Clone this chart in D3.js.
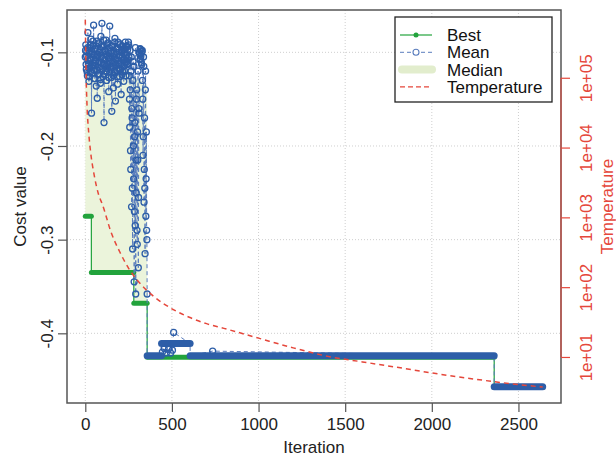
<!DOCTYPE html>
<html>
<head>
<meta charset="utf-8">
<script src="https://cdn.jsdelivr.net/npm/d3@7"></script>
<style>
  body { margin: 0; background: #fff; }
  svg { font-family: "Liberation Sans", Arial, sans-serif; }
</style>
</head>
<body>
<svg></svg>
<script>
const width = 616;
const height = 460;
const margin = {top: 10, right: 55, bottom: 57, left: 67};

// ---- data ----
const xTicks = [0, 500, 1000, 1500, 2000, 2500];
const costTicks = [-0.1, -0.2, -0.3, -0.4];
const tempTicks = [1e1, 1e2, 1e3, 1e4, 1e5];
const maxIteration = 2640;

// best cost: [from iteration, to iteration, cost]
const bestRuns = [
  [0, 35, -0.275],
  [35, 280, -0.335],
  [280, 357, -0.368],
  [357, 2360, -0.4255],
  [2360, 2640, -0.4575]
];

// mean cost, every 3rd iteration from 0 to 357
const meanStep = 3;
const meanEarly = [
  -0.105, -0.092, -0.118, -0.099, -0.125, -0.079, -0.112, -0.131, -0.095, -0.108,
  -0.121, -0.086, -0.165, -0.102, -0.114, -0.093, -0.071, -0.119, -0.128, -0.097,
  -0.109, -0.136, -0.088, -0.149, -0.104, -0.116, -0.091, -0.123, -0.100, -0.133,
  -0.083, -0.111, -0.069, -0.107, -0.126, -0.094, -0.175, -0.113, -0.098, -0.120,
  -0.087, -0.130, -0.103, -0.117, -0.090, -0.142, -0.106, -0.072, -0.115, -0.099,
  -0.127, -0.163, -0.110, -0.093, -0.138, -0.101, -0.122, -0.085, -0.152, -0.108,
  -0.096, -0.119, -0.134, -0.089, -0.112, -0.104, -0.126, -0.091, -0.118, -0.145,
  -0.100, -0.093, -0.121, -0.108, -0.131, -0.097, -0.114, -0.089, -0.125, -0.103,
  -0.110, -0.094, -0.112, -0.089,
  -0.105, -0.150, -0.098, -0.205, -0.120, -0.265, -0.170, -0.310, -0.110, -0.235,
  -0.345, -0.190, -0.285, -0.358, -0.250, -0.140, -0.305, -0.215, -0.330, -0.160,
  -0.100, -0.108, -0.097, -0.104, -0.111, -0.099,
  -0.130, -0.210, -0.105, -0.260, -0.170, -0.315, -0.120, -0.235, -0.290, -0.358
];
// the iterations in between (1.5, 4.5, ... 355.5)
const meanEarlyMid = [
  -0.098, -0.113, -0.104, -0.121, -0.095, -0.109, -0.117, -0.101, -0.126, -0.092,
  -0.107, -0.115, -0.099, -0.122, -0.088, -0.111, -0.103, -0.128, -0.096, -0.114,
  -0.106, -0.093, -0.119, -0.102, -0.124, -0.090, -0.110, -0.116, -0.097, -0.129,
  -0.105, -0.094, -0.118, -0.100, -0.112, -0.087, -0.123, -0.108, -0.099, -0.115,
  -0.102, -0.120, -0.091, -0.113, -0.106, -0.127, -0.095, -0.110, -0.118, -0.101,
  -0.093, -0.116, -0.104, -0.125, -0.098, -0.111, -0.089, -0.121, -0.107, -0.114,
  -0.100, -0.126, -0.096, -0.109, -0.117, -0.092, -0.119, -0.103, -0.112, -0.098,
  -0.124, -0.105, -0.094, -0.115, -0.101, -0.120, -0.097, -0.110, -0.106, -0.093,
  -0.113, -0.097, -0.108, -0.092,
  -0.125, -0.180, -0.140, -0.225, -0.105, -0.160, -0.245, -0.130, -0.200, -0.115,
  -0.270, -0.175, -0.095, -0.215, -0.150, -0.290, -0.185, -0.120, -0.255, -0.165,
  -0.102, -0.096, -0.107, -0.101, -0.113, -0.098,
  -0.150, -0.190, -0.115, -0.225, -0.245, -0.140, -0.275, -0.185, -0.300
];
// mean cost after the search settles: [from, to, cost]
const meanRuns = [
  [357, 440, -0.424],
  [440, 605, -0.411],
  [605, 2360, -0.424],
  [2360, 2640, -0.457]
];
// single mean points in the small bump
const meanExtra = [
  [445, -0.420], [455, -0.416], [468, -0.421], [480, -0.417], [492, -0.421],
  [503, -0.418], [510, -0.399], [735, -0.419]
];

// median cost (upper edge of the shaded band)
const medianIter = [0, 40, 80, 120, 160, 200, 240, 280, 320, 357];
const medianCost = [-0.120, -0.115, -0.118, -0.112, -0.116, -0.113, -0.117, -0.125, -0.130, -0.135];

// temperature schedule
const tempIter = [0, 5, 10, 20, 30, 50, 75, 100, 150, 200, 250, 300, 400, 500, 600, 700, 800,
                  1000, 1200, 1400, 1600, 1800, 2000, 2200, 2400, 2640];
const tempValue = [6.8e5, 1.0e5, 4.0e4, 1.6e4, 8.9e3, 4.2e3, 2.2e3, 1.5e3, 600, 316, 186, 126, 72,
                   49, 37, 30, 25.7, 18.6, 13.5, 10.2, 8.5, 7.1, 5.9, 5.0, 4.3, 3.7];

// ---- colours ----
const green = "#22a33c";
const blue = "#2d5ea8";
const blueLine = "#5a7dbd";
const red = "#e5473b";
const fillGreen = "#ebf4db";

// ---- scales ----
const pad = maxIteration * 0.04;
const x = d3.scaleLinear()
  .domain([-pad, maxIteration + pad])
  .range([margin.left, width - margin.right]);
const y = d3.scaleLinear()
  .domain([-0.4744, -0.0548])
  .range([height - margin.bottom, margin.top]);
const yT = d3.scaleLog()
  .domain([2.19, 9.35e5])
  .range([height - margin.bottom, margin.top]);

const svg = d3.select("svg")
  .attr("width", width)
  .attr("height", height);

// grid
const grid = svg.append("g")
  .attr("stroke", "#cfcfcf")
  .attr("stroke-width", 1)
  .attr("stroke-dasharray", "1,2");
grid.selectAll("line.v").data(xTicks).join("line")
  .attr("x1", d => x(d)).attr("x2", d => x(d))
  .attr("y1", margin.top).attr("y2", height - margin.bottom);
grid.selectAll("line.h").data(costTicks).join("line")
  .attr("y1", d => y(d)).attr("y2", d => y(d))
  .attr("x1", margin.left).attr("x2", width - margin.right);

// median band (between median and best)
const bestEarly = bestRuns.filter(r => r[0] < 357)
  .flatMap(r => [[r[0], r[2]], [r[1], r[2]]]);
const bandPts = medianIter.map((it, i) => [it, medianCost[i]])
  .concat(bestEarly.slice().reverse());
svg.append("path")
  .attr("fill", fillGreen)
  .attr("d", d3.line().x(d => x(d[0])).y(d => y(d[1]))(bandPts) + "Z");

// best
const bestPts = bestRuns.flatMap(r => [[r[0], r[2]], [r[1], r[2]]]);
svg.append("path")
  .attr("fill", "none")
  .attr("stroke", green)
  .attr("stroke-width", 1.2)
  .attr("d", d3.line().x(d => x(d[0])).y(d => y(d[1]))(bestPts));
svg.append("g")
  .attr("stroke", green)
  .attr("stroke-width", 5)
  .attr("stroke-linecap", "round")
  .selectAll("line")
  .data(bestRuns)
  .join("line")
  .attr("x1", d => x(d[0])).attr("x2", d => x(d[1]))
  .attr("y1", d => y(d[2])).attr("y2", d => y(d[2]));

// mean
const meanPts = meanEarly.map((v, i) => [i * meanStep, v])
  .concat(meanEarlyMid.map((v, i) => [i * meanStep + meanStep / 2, v]))
  .sort((a, b) => a[0] - b[0]);
const meanPath = meanPts
  .concat(meanRuns.flatMap(r => [[r[0] + 0.01, r[2]], [r[1], r[2]]]))
  .concat(meanExtra)
  .sort((a, b) => a[0] - b[0]);
svg.append("path")
  .attr("fill", "none")
  .attr("stroke", blueLine)
  .attr("stroke-width", 1)
  .attr("stroke-dasharray", "4,3")
  .attr("d", d3.line().x(d => x(d[0])).y(d => y(d[1]))(meanPath));
svg.append("g")
  .attr("stroke", blue)
  .attr("stroke-width", 7)
  .attr("stroke-linecap", "round")
  .selectAll("line")
  .data(meanRuns)
  .join("line")
  .attr("x1", d => x(d[0])).attr("x2", d => x(d[1]))
  .attr("y1", d => y(d[2])).attr("y2", d => y(d[2]));
svg.append("g")
  .attr("fill", "none")
  .attr("stroke", blue)
  .attr("stroke-width", 1.3)
  .selectAll("circle")
  .data(meanPts.concat(meanExtra))
  .join("circle")
  .attr("cx", d => x(d[0]))
  .attr("cy", d => y(d[1]))
  .attr("r", 3);

// temperature
svg.append("path")
  .attr("fill", "none")
  .attr("stroke", red)
  .attr("stroke-width", 1.5)
  .attr("stroke-dasharray", "5,4")
  .attr("d", d3.line()
    .x((d, i) => x(tempIter[i]))
    .y(d => yT(d))
    .curve(d3.curveMonotoneX)(tempValue));

// box
svg.append("rect")
  .attr("x", margin.left).attr("y", margin.top)
  .attr("width", width - margin.left - margin.right)
  .attr("height", height - margin.top - margin.bottom)
  .attr("fill", "none")
  .attr("stroke", "#555")
  .attr("stroke-width", 1.5);

// axes
const fs = 17;
const xAxis = svg.append("g")
  .attr("transform", `translate(0,${height - margin.bottom})`)
  .call(d3.axisBottom(x).tickValues(xTicks).tickSize(9).tickPadding(6).tickFormat(d3.format("d")));
xAxis.select(".domain").remove();
xAxis.selectAll("line").attr("stroke", "#555").attr("stroke-width", 1.2);
xAxis.selectAll("text").attr("font-size", fs).attr("fill", "#222");

const yAxis = svg.append("g")
  .attr("transform", `translate(${margin.left},0)`)
  .call(d3.axisLeft(y).tickValues(costTicks).tickSize(9).tickFormat(d => String(d)));
yAxis.select(".domain").remove();
yAxis.selectAll("line").attr("stroke", "#555").attr("stroke-width", 1.2);
yAxis.selectAll("text")
  .attr("font-size", fs).attr("fill", "#222")
  .attr("x", null).attr("dy", null)
  .attr("text-anchor", "middle")
  .attr("transform", "translate(-14,0) rotate(-90)");

const tAxis = svg.append("g")
  .attr("transform", `translate(${width - margin.right},0)`)
  .call(d3.axisRight(yT).tickValues(tempTicks).tickSize(9)
    .tickFormat(d => "1e+" + String(Math.round(Math.log10(d))).padStart(2, "0")));
tAxis.select(".domain")
  .attr("stroke", red)
  .attr("d", `M0,${yT(1e1)}V${yT(1e5)}`);
tAxis.selectAll("line").attr("stroke", red).attr("stroke-width", 1.2);
tAxis.selectAll("text")
  .attr("font-size", fs).attr("fill", red)
  .attr("x", null).attr("dy", null)
  .attr("text-anchor", "middle")
  .attr("transform", "translate(31,0) rotate(-90)");

// axis titles
const midY = (margin.top + height - margin.bottom) / 2;
svg.append("text")
  .attr("transform", `translate(26,${midY}) rotate(-90)`)
  .attr("text-anchor", "middle")
  .attr("font-size", fs)
  .attr("fill", "#222")
  .text("Cost value");
svg.append("text")
  .attr("x", (margin.left + width - margin.right) / 2)
  .attr("y", 453)
  .attr("text-anchor", "middle")
  .attr("font-size", fs)
  .attr("fill", "#222")
  .text("Iteration");
svg.append("text")
  .attr("transform", `translate(613,${midY}) rotate(-90)`)
  .attr("text-anchor", "middle")
  .attr("font-size", fs)
  .attr("fill", red)
  .text("Temperature");

// legend
const legendItems = ["Best", "Mean", "Median", "Temperature"];
const legend = svg.append("g");
legend.append("rect")
  .attr("x", 395).attr("y", 17)
  .attr("width", 157).attr("height", 85)
  .attr("fill", "#fff")
  .attr("stroke", "#222")
  .attr("stroke-width", 1.3);
legendItems.forEach((name, i) => {
  const cy = 35 + i * 17.3;
  const g = legend.append("g").attr("transform", `translate(0,${cy})`);
  if (name === "Best") {
    g.append("line").attr("x1", 400).attr("x2", 432).attr("stroke", green).attr("stroke-width", 1.2);
    g.append("circle").attr("cx", 416).attr("r", 2.5).attr("fill", green);
  } else if (name === "Mean") {
    g.append("line").attr("x1", 400).attr("x2", 432).attr("stroke", blueLine)
      .attr("stroke-width", 1).attr("stroke-dasharray", "4,3");
    g.append("circle").attr("cx", 416).attr("r", 3).attr("fill", "#fff")
      .attr("stroke", blueLine).attr("stroke-width", 1.1);
  } else if (name === "Median") {
    g.append("line").attr("x1", 402).attr("x2", 432).attr("stroke", "#e2edcd")
      .attr("stroke-width", 8).attr("stroke-linecap", "round");
  } else {
    g.append("line").attr("x1", 400).attr("x2", 432).attr("stroke", red)
      .attr("stroke-width", 1.3).attr("stroke-dasharray", "5,3");
  }
  g.append("text")
    .attr("x", 447)
    .attr("dy", "0.35em")
    .attr("font-size", fs)
    .attr("fill", "#111")
    .text(name);
});
</script>
</body>
</html>
